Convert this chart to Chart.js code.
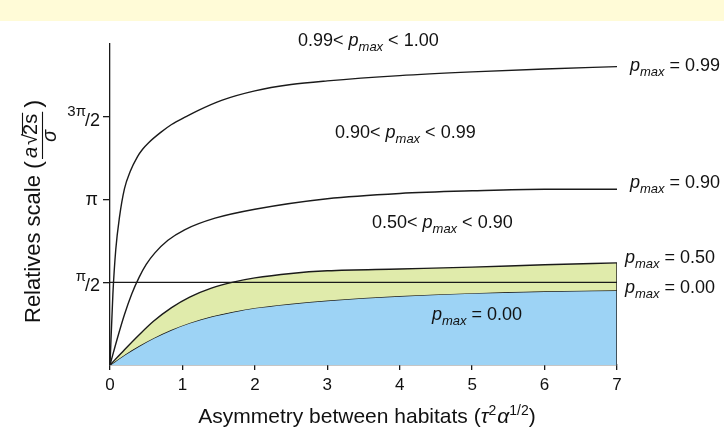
<!DOCTYPE html>
<html>
<head>
<meta charset="utf-8">
<script src="https://cdn.jsdelivr.net/npm/chart.js@4.4.1/dist/chart.umd.min.js"></script>
<style>
  html, body { margin: 0; padding: 0; background: #fff; }
  canvas { display: block; }
</style>
</head>
<body>
<canvas id="escalaChart" width="724" height="431"></canvas>
<script>
/* ============================================================
   DATOS
============================================================ */
const X_TICKS = [0, 1, 2, 3, 4, 5, 6, 7];
const Y_TICK_VALUES = [Math.PI / 2, Math.PI, 3 * Math.PI / 2];
const Y_TICK_LABELS = ['π/2', 'π', '3π/2'];

// p_max = 0.99
const X_099 = [0, 0.04, 0.08, 0.13, 0.2, 0.28, 0.38, 0.45, 0.53, 0.7, 0.85, 1.05, 1.22, 1.54, 2, 2.5, 3, 4, 5, 6, 7];
const Y_099 = [0, 1.35, 2.2, 2.8, 3.35, 3.68, 3.96, 4.10, 4.22, 4.42, 4.57, 4.72, 4.84, 5.03, 5.21, 5.33, 5.40, 5.50, 5.57, 5.625, 5.67];
// p_max = 0.90
const X_090 = [0, 0.1, 0.2, 0.3, 0.4, 0.5, 0.62, 0.8, 1.03, 1.45, 2, 3, 4, 5, 6, 7];
const Y_090 = [0, 0.50, 0.96, 1.35, 1.66, 1.91, 2.13, 2.37, 2.57, 2.79, 2.96, 3.16, 3.26, 3.31, 3.34, 3.34];
// p_max = 0.50 y p_max = 0.00 (mismo eje x)
const X_BANDA = [0, 0.2, 0.4, 0.6, 0.85, 1.1, 1.4, 1.7, 2, 2.5, 3, 4, 5, 6, 7];
const Y_050 = [0, 0.29, 0.57, 0.83, 1.09, 1.29, 1.46, 1.575, 1.655, 1.74, 1.79, 1.825, 1.86, 1.905, 1.94];
const Y_000 = [0, 0.19, 0.36, 0.51, 0.67, 0.80, 0.92, 1.01, 1.085, 1.165, 1.225, 1.31, 1.365, 1.40, 1.42];

const ETIQ_REGIONES = [['0.99< ', ' < 1.00'], ['0.90< ', ' < 0.99'], ['0.50< ', ' < 0.90'], ['', '= 0.00']];
const ETIQ_CURVAS = ['= 0.99', '= 0.90', '= 0.50', '= 0.00'];

/* ============================================================
   GRÁFICO
============================================================ */
const FUENTE = '"Liberation Sans", Arial, Helvetica, sans-serif';
const NEGRO = '#1a1a1a';
const pts = (xs, ys) => xs.map((x, i) => ({ x, y: ys[i] }));

function textoPmax(ctx, x, y, antes, despues, size) {
    ctx.textAlign = 'left';
    ctx.textBaseline = 'alphabetic';
    let cx = x;
    ctx.font = `${size}px ${FUENTE}`;
    ctx.fillText(antes, cx, y);
    cx += ctx.measureText(antes).width;
    ctx.font = `italic ${size}px ${FUENTE}`;
    ctx.fillText('p', cx, y);
    cx += ctx.measureText('p').width;
    const sub = Math.round(size * 0.7);
    ctx.font = `italic ${sub}px ${FUENTE}`;
    ctx.fillText('max', cx, y + size * 0.25);
    cx += ctx.measureText('max').width;
    ctx.font = `${size}px ${FUENTE}`;
    ctx.fillText(despues.startsWith('=') ? ' ' + despues : despues, cx, y);
}

const fondoPlugin = {
    id: 'fondo',
    beforeDraw(chart) {
        const ctx = chart.ctx;
        ctx.save();
        ctx.fillStyle = '#fffbd7';
        ctx.fillRect(0, 0, chart.width, 21);
        ctx.restore();
    }
};

const textosPlugin = {
    id: 'textos',
    afterDraw(chart) {
        const ctx = chart.ctx;
        const y = chart.scales.y;
        ctx.save();
        ctx.fillStyle = '#111';

        // etiquetas del eje y (π)
        Y_TICK_VALUES.forEach((v, i) => {
            const py = y.getPixelForValue(v);
            const lab = Y_TICK_LABELS[i];
            const right = 100;
            ctx.textAlign = 'right';
            ctx.textBaseline = 'alphabetic';
            if (lab.includes('/')) {
                const [num, den] = lab.split('/');
                ctx.font = `18px ${FUENTE}`;
                const wDen = ctx.measureText('/' + den).width;
                ctx.fillText('/' + den, right, py + 9);
                ctx.font = `15px ${FUENTE}`;
                ctx.fillText(num, right - wDen + 1, py - 1);
            } else {
                ctx.font = `18px ${FUENTE}`;
                ctx.fillText(lab, right - 2, py + 5);
            }
        });

        // regiones
        const sz = 18;
        textoPmax(ctx, 298, 46, ETIQ_REGIONES[0][0], ETIQ_REGIONES[0][1], sz);
        textoPmax(ctx, 335, 138, ETIQ_REGIONES[1][0], ETIQ_REGIONES[1][1], sz);
        textoPmax(ctx, 372, 228, ETIQ_REGIONES[2][0], ETIQ_REGIONES[2][1], sz);
        textoPmax(ctx, 432, 320, ETIQ_REGIONES[3][0], ETIQ_REGIONES[3][1], sz);

        // curvas (lado derecho)
        textoPmax(ctx, 630, 71, '', ETIQ_CURVAS[0], sz);
        textoPmax(ctx, 630, 188, '', ETIQ_CURVAS[1], sz);
        textoPmax(ctx, 625, 263, '', ETIQ_CURVAS[2], sz);
        textoPmax(ctx, 625, 293, '', ETIQ_CURVAS[3], sz);

        // título eje x
        const partes = [
            ['Asymmetry between habitats (', 21, '', 0],
            ['τ', 21, 'italic ', 0],
            ['2', 14, '', -8],
            ['α', 21, 'italic ', 0],
            ['1/2', 14, '', -8],
            [')', 21, '', 0]
        ];
        let total = 0;
        partes.forEach(p => { ctx.font = `${p[2]}${p[1]}px ${FUENTE}`; total += ctx.measureText(p[0]).width + (p[0] === '2' ? 1 : 0); });
        let cx = 367 - total / 2;
        ctx.textAlign = 'left';
        partes.forEach(p => {
            ctx.font = `${p[2]}${p[1]}px ${FUENTE}`;
            ctx.fillText(p[0], cx, 423 + p[3]);
            cx += ctx.measureText(p[0]).width + (p[0] === '2' ? 1 : 0);
        });

        // título eje y
        ctx.translate(40, 323);
        ctx.rotate(-Math.PI / 2);
        ctx.textAlign = 'left';
        ctx.font = `22px ${FUENTE}`;
        ctx.fillText('Relatives scale', 0, 0);
        let u = ctx.measureText('Relatives scale').width + 6;
        ctx.font = `24px ${FUENTE}`;
        ctx.fillText('(', u, 1);
        u += ctx.measureText('(').width + 3;
        const u0 = u;
        ctx.font = `italic 20px ${FUENTE}`;
        ctx.fillText('a', u, -3);
        u += ctx.measureText('a').width + 2;
        ctx.font = `20px ${FUENTE}`;
        ctx.fillText('√', u, -3);
        u += ctx.measureText('√').width - 1;
        const uRad = u;
        ctx.fillText('2s', u, -3);
        u += ctx.measureText('2s').width;
        const u1 = u;
        ctx.strokeStyle = '#111';
        ctx.lineWidth = 1.1;
        ctx.beginPath();
        ctx.moveTo(uRad, -17.5); ctx.lineTo(u1 + 1, -17.5);
        ctx.moveTo(u0 - 1, 2.5); ctx.lineTo(u1 + 2, 2.5);
        ctx.stroke();
        ctx.font = `italic 20px ${FUENTE}`;
        const wS = ctx.measureText('σ').width;
        ctx.fillText('σ', (u0 + u1) / 2 - wS / 2, 16);
        ctx.font = `24px ${FUENTE}`;
        ctx.fillText(')', u1 + 6, 1);
        ctx.restore();
    }
};

const lineaBase = { borderColor: NEGRO, borderWidth: 1.4, pointRadius: 0, fill: false };

new Chart(document.getElementById('escalaChart').getContext('2d'), {
    type: 'line',
    data: {
        datasets: [
            { ...lineaBase, label: 'π/2', data: pts([0, 7], [Math.PI / 2, Math.PI / 2]) },
            { ...lineaBase, label: 'borde', data: pts([7, 7], [0, Y_050[Y_050.length - 1]]) },
            { ...lineaBase, label: 'p 0.99', data: pts(X_099, Y_099), cubicInterpolationMode: 'monotone' },
            { ...lineaBase, label: 'p 0.90', data: pts(X_090, Y_090), cubicInterpolationMode: 'monotone' },
            { ...lineaBase, label: 'p 0.50', data: pts(X_BANDA, Y_050), cubicInterpolationMode: 'monotone', fill: 5, backgroundColor: '#e0ebab' },
            { ...lineaBase, label: 'p 0.00', data: pts(X_BANDA, Y_000), cubicInterpolationMode: 'monotone', fill: 'origin', backgroundColor: '#9dd3f5' }
        ]
    },
    options: {
        responsive: false,
        animation: false,
        events: [],
        layout: { padding: { top: 44, right: 107, left: 0, bottom: 0 } },
        plugins: { legend: { display: false }, tooltip: { enabled: false } },
        scales: {
            x: {
                type: 'linear', min: 0, max: 7, z: 1,
                afterBuildTicks: s => { s.ticks = X_TICKS.map(v => ({ value: v })); },
                afterFit: s => { s.height = 66; },
                ticks: { font: { size: 17, family: FUENTE }, color: '#111', padding: 5 },
                grid: { drawOnChartArea: false, drawTicks: true, tickLength: 5, color: NEGRO, lineWidth: 1.3 },
                border: { color: NEGRO, width: 1.3 }
            },
            y: {
                type: 'linear', min: 0, max: 6.1, z: 1,
                afterBuildTicks: s => { s.ticks = Y_TICK_VALUES.map(v => ({ value: v })); },
                afterFit: s => { s.width = 110; },
                ticks: { display: false },
                grid: { drawOnChartArea: false, drawTicks: true, tickLength: 7, color: NEGRO, lineWidth: 1.3 },
                border: { color: NEGRO, width: 1.3 }
            }
        }
    },
    plugins: [fondoPlugin, textosPlugin]
});
</script>
</body>
</html>
